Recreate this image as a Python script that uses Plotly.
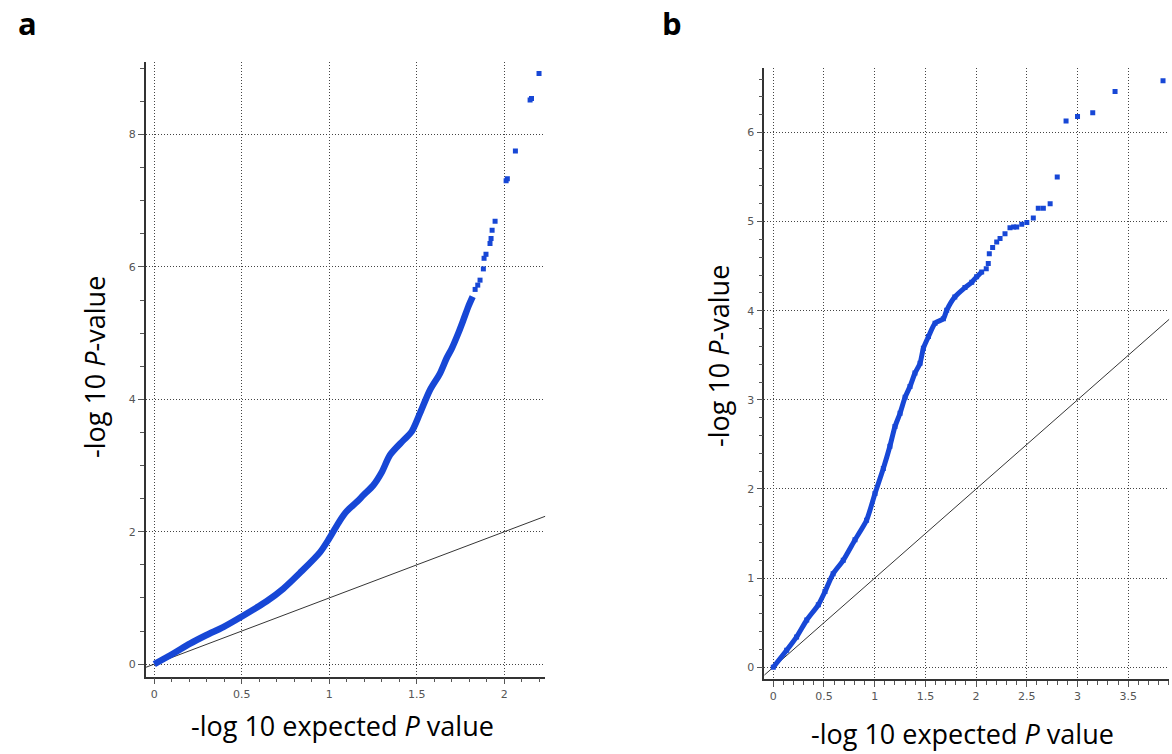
import plotly.graph_objects as go

# ---------------- data ----------------
a_dense_x = [0, 0.109, 0.204, 0.299, 0.394, 0.5, 0.642, 0.737, 0.833, 0.947, 1.0, 1.061, 1.10,
             1.157, 1.194, 1.251, 1.30, 1.347, 1.423, 1.47, 1.518, 1.575, 1.632, 1.67, 1.70, 1.737,
             1.766, 1.794, 1.819]
a_dense_y = [0, 0.16, 0.31, 0.44, 0.56, 0.72, 0.95, 1.14, 1.38, 1.69, 1.9, 2.17, 2.31,
             2.45, 2.55, 2.70, 2.90, 3.16, 3.38, 3.51, 3.79, 4.14, 4.39, 4.62, 4.77, 5.0,
             5.2, 5.40, 5.55]
a_tail_x = [1.833, 1.848, 1.861, 1.88, 1.884, 1.895, 1.918, 1.924, 1.93, 1.947, 2.01, 2.017,
            2.063, 2.147, 2.155, 2.198]
a_tail_y = [5.66, 5.725, 5.80, 5.97, 6.13, 6.19, 6.355, 6.43, 6.555, 6.69, 7.30, 7.33,
            7.75, 8.52, 8.545, 8.92]

b_dense_x = [0, 0.132, 0.23, 0.33, 0.444, 0.51, 0.59, 0.69, 0.806, 0.92, 1.003, 1.085, 1.15,
             1.20, 1.25, 1.30, 1.348, 1.397, 1.447, 1.48, 1.53, 1.595, 1.677, 1.71, 1.79,
             1.89, 1.957, 2.005, 2.055]
b_dense_y = [0, 0.19, 0.34, 0.53, 0.70, 0.85, 1.05, 1.20, 1.43, 1.65, 1.95, 2.23, 2.48,
             2.70, 2.85, 3.03, 3.15, 3.30, 3.41, 3.58, 3.71, 3.86, 3.91, 4.005, 4.155,
             4.26, 4.32, 4.38, 4.435]
b_tail_x = [2.10, 2.12, 2.13, 2.163, 2.203, 2.236, 2.285, 2.334, 2.37, 2.40, 2.45, 2.50,
            2.564, 2.613, 2.663, 2.73, 2.80, 2.887, 3.00, 3.15, 3.37, 3.843]
b_tail_y = [4.47, 4.53, 4.64, 4.71, 4.77, 4.81, 4.865, 4.93, 4.94, 4.94, 4.97, 4.99,
            5.04, 5.15, 5.15, 5.20, 5.50, 6.13, 6.18, 6.22, 6.46, 6.58]

a_xrange = [-0.049, 2.234]
a_yrange = [-0.19, 9.1]
b_xrange = [-0.089, 3.905]
b_yrange = [-0.135, 6.72]

x_title = "-log 10 expected <i>P</i> value"
y_title = "-log 10 <i>P</i>-value"

BLUE = "#1747d6"

fig = go.Figure()

# diagonal reference lines
fig.add_trace(go.Scatter(x=a_xrange, y=a_xrange, mode="lines",
                         line=dict(color="black", width=0.8), xaxis="x", yaxis="y",
                         showlegend=False, hoverinfo="skip"))
fig.add_trace(go.Scatter(x=b_xrange, y=b_xrange, mode="lines",
                         line=dict(color="black", width=0.8), xaxis="x2", yaxis="y2",
                         showlegend=False, hoverinfo="skip"))

# panel a
fig.add_trace(go.Scatter(x=a_dense_x, y=a_dense_y, mode="lines",
                         line=dict(color=BLUE, width=6.5, shape="spline", smoothing=0.8),
                         xaxis="x", yaxis="y", showlegend=False))
fig.add_trace(go.Scatter(x=a_tail_x, y=a_tail_y, mode="markers",
                         marker=dict(symbol="square", size=5, color=BLUE),
                         xaxis="x", yaxis="y", showlegend=False))
# panel b
fig.add_trace(go.Scatter(x=b_dense_x, y=b_dense_y, mode="lines+markers",
                         line=dict(color=BLUE, width=5, shape="spline", smoothing=0.6),
                         marker=dict(symbol="square", size=5, color=BLUE),
                         xaxis="x2", yaxis="y2", showlegend=False))
fig.add_trace(go.Scatter(x=b_tail_x, y=b_tail_y, mode="markers",
                         marker=dict(symbol="square", size=5, color=BLUE),
                         xaxis="x2", yaxis="y2", showlegend=False))

tickfont = dict(family="DejaVu Sans", size=11, color="#555555")
common = dict(showline=True, linecolor="#333333", linewidth=1.5, ticks="outside",
              ticklen=6, tickcolor="#555555", tickwidth=1, showgrid=True,
              gridcolor="#444444", griddash="1px,2px", gridwidth=1, zeroline=False,
              tickfont=tickfont, fixedrange=True)

fig.update_layout(
    width=1172, height=754,
    margin=dict(l=0, r=0, t=0, b=0),
    paper_bgcolor="white", plot_bgcolor="white",
    showlegend=False,
    xaxis=dict(domain=[0.1243, 0.4653], range=a_xrange, anchor="y", dtick=0.5, tick0=0,
               minor=dict(dtick=0.1, tick0=0, ticklen=4, tickcolor="#555555", showgrid=False),
               **common),
    yaxis=dict(domain=[0.1025, 0.9182], range=a_yrange, anchor="x", dtick=2, tick0=0,
               minor=dict(dtick=0.5, tick0=0, ticklen=4, tickcolor="#555555", showgrid=False),
               **common),
    xaxis2=dict(domain=[0.6521, 0.9977], range=b_xrange, anchor="y2", dtick=0.5, tick0=0,
                minor=dict(dtick=0.1, tick0=0, ticklen=4, tickcolor="#555555", showgrid=False),
                **common),
    yaxis2=dict(domain=[0.0991, 0.9094], range=b_yrange, anchor="x2", dtick=1, tick0=0,
                minor=dict(dtick=0.2, tick0=0, ticklen=4, tickcolor="#555555", showgrid=False),
                **common),
)

title_font = dict(family="Open Sans", size=27, color="black")
annos = [
    dict(text=x_title, x=342, y=754 - 725),
    dict(text=x_title, x=962, y=754 - 733),
    dict(text=y_title, x=94, y=754 - 367, textangle=-90),
    dict(text=y_title, x=718, y=754 - 356, textangle=-90),
]
for a in annos:
    fig.add_annotation(text=a["text"], x=a["x"] / 1172, y=a["y"] / 754, xref="paper", yref="paper",
                       showarrow=False, font=title_font, textangle=a.get("textangle", 0),
                       xanchor="center", yanchor="middle")

label_font = dict(family="Open Sans", size=31, color="black")
fig.add_annotation(text="<b>a</b>", x=27 / 1172, y=1 - 1 / 754, xref="paper", yref="paper",
                   showarrow=False, font=label_font, xanchor="center", yanchor="top",
                   borderpad=0)
fig.add_annotation(text="<b>b</b>", x=672 / 1172, y=1 - 1 / 754, xref="paper", yref="paper",
                   showarrow=False, font=label_font, xanchor="center", yanchor="top",
                   borderpad=0)

fig.write_html("out.html")
